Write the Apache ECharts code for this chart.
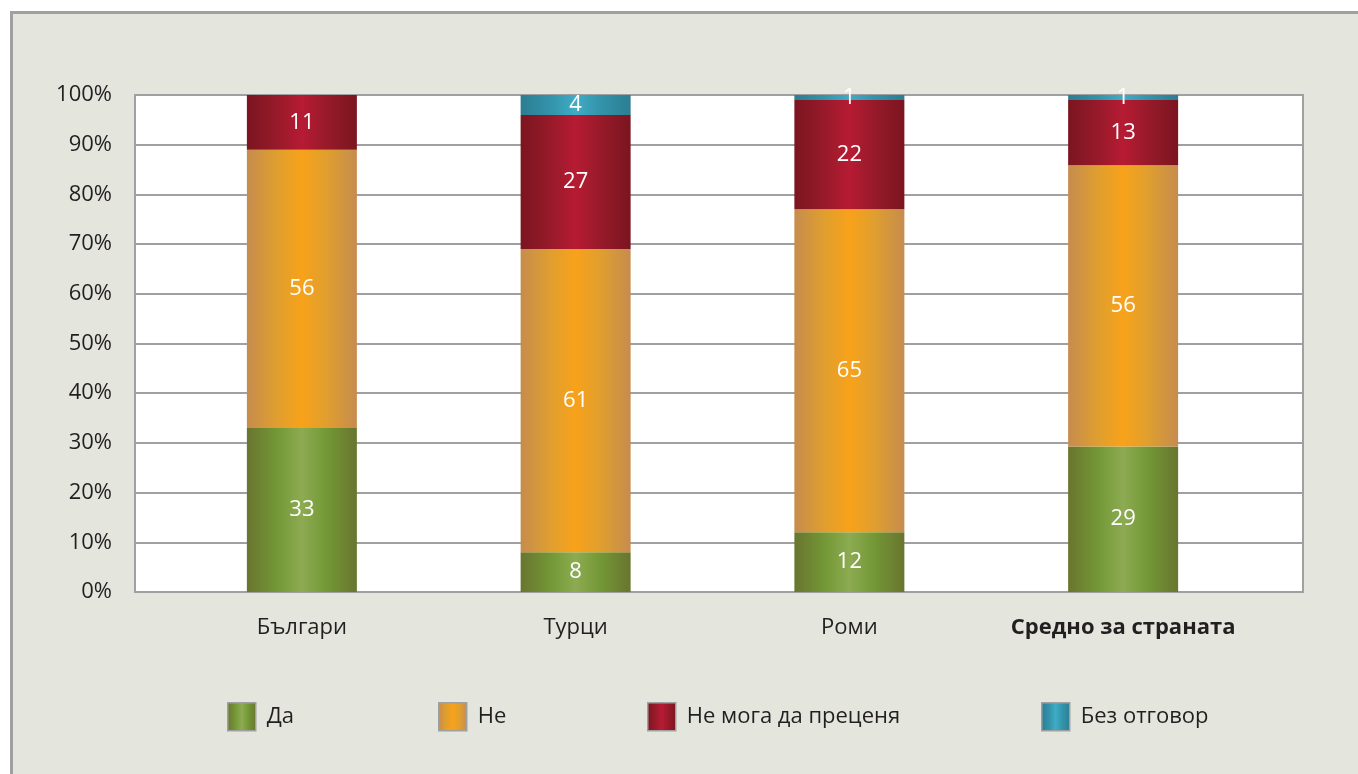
<!DOCTYPE html>
<html>
<head>
<meta charset="utf-8">
<script src="https://cdn.jsdelivr.net/npm/echarts@6/dist/echarts.min.js"></script>
<style>
html,body{margin:0;padding:0;background:#ffffff;}
#wrap{position:relative;width:1358px;height:774px;overflow:hidden;}
#panel{position:absolute;left:10px;top:11px;width:1400px;height:800px;background:#e4e6de;border-left:3px solid #a0a0a2;border-top:3px solid #a0a0a2;}
#chart{position:absolute;left:0;top:0;width:1358px;height:774px;}
</style>
</head>
<body>
<div id="wrap"><div id="panel"></div><div id="chart"></div></div>
<script>
const categories = ['Българи', 'Турци', 'Роми', 'Средно за страната'];
const seriesNames = ['Да', 'Не', 'Не мога да преценя', 'Без отговор'];
const da = [33, 8, 12, 29];
const ne = [56, 61, 65, 56];
const neMoga = [11, 27, 22, 13];
const bezOtgovor = [0, 4, 1, 1];
const yTicks = [0, 10, 20, 30, 40, 50, 60, 70, 80, 90, 100];

const raw = [da, ne, neMoga, bezOtgovor];
const totals = categories.map((c, i) => raw.reduce((s, arr) => s + arr[i], 0));

function grad(edge, mid, mid2) {
  return {
    type: 'linear', x: 0, y: 0, x2: 1, y2: 0,
    colorStops: [
      {offset: 0, color: edge},
      {offset: 0.28, color: mid2},
      {offset: 0.5, color: mid},
      {offset: 0.72, color: mid2},
      {offset: 1, color: edge}
    ]
  };
}
const colors = [
  grad('#69752f', '#8dab52', '#739836'),
  grad('#c68c4e', '#f8a21a', '#e09f2e'),
  grad('#7b1520', '#b71b33', '#981a2a'),
  grad('#2b7d92', '#40acc5', '#3394ab')
];

const FONT = 'Open Sans';
const TXT = '#231f20';
const FS = 22;

const series = raw.map((arr, k) => ({
  name: seriesNames[k],
  type: 'bar',
  stack: 'total',
  xAxisIndex: 1,
  yAxisIndex: 1,
  barWidth: 110,
  data: arr.map((v, i) => ({value: v / totals[i] * 100, raw: v})),
  itemStyle: {color: colors[k]},
  label: {
    show: true,
    position: 'inside',
    color: '#ffffff',
    fontFamily: FONT,
    fontSize: FS,
    formatter: p => (p.data.raw > 0 ? String(p.data.raw) : '')
  },
  emphasis: {disabled: true}
}));

const legendLefts = [227, 438, 647, 1041];
const legends = seriesNames.map((n, k) => ({
  data: [n],
  left: legendLefts[k],
  top: 702,
  padding: 0,
  itemWidth: 28,
  itemHeight: 28,
  icon: 'rect',
  selectedMode: false,
  itemStyle: {borderColor: '#a0a0a2', borderWidth: 1.5},
  textStyle: {fontFamily: FONT, fontSize: FS, color: TXT, padding: [3, 0, 0, 6]}
}));

const chart = echarts.init(document.getElementById('chart'), null, {renderer: 'canvas'});
chart.setOption({
  backgroundColor: 'transparent',
  animation: false,
  grid: [
    {
      left: 135, top: 95, right: 55, bottom: 182,
      show: true,
      backgroundColor: '#ffffff',
      borderColor: '#a0a0a2',
      borderWidth: 2
    },
    {left: 165, top: 95, right: 98, bottom: 182}
  ],
  legend: legends,
  xAxis: [
    {
      type: 'category', gridIndex: 0, data: categories,
      axisLine: {show: false}, axisTick: {show: false}, axisLabel: {show: false}
    },
    {
      type: 'category',
      gridIndex: 1,
      data: categories,
      axisLine: {show: false},
      axisTick: {show: false},
      axisLabel: {
        interval: 0,
        margin: 25,
        fontFamily: FONT,
        fontSize: FS,
        color: TXT,
        formatter: (v, i) => (i === categories.length - 1 ? '{b|' + v + '}' : v),
        rich: {b: {fontFamily: FONT, fontSize: FS, fontWeight: 'bold', color: TXT}}
      }
    }
  ],
  yAxis: [
    {
      type: 'value',
      gridIndex: 0,
      min: yTicks[0],
      max: yTicks[yTicks.length - 1],
      interval: 10,
      axisLine: {show: false},
      axisTick: {show: false},
      splitLine: {lineStyle: {color: '#a0a0a2', width: 2}},
      axisLabel: {
        margin: 23,
        fontFamily: FONT,
        fontSize: FS,
        color: TXT,
        formatter: '{value}%'
      }
    },
    {
      type: 'value',
      gridIndex: 1,
      min: yTicks[0],
      max: yTicks[yTicks.length - 1],
      interval: 10,
      show: false
    }
  ],
  series: series
});
</script>
</body>
</html>
